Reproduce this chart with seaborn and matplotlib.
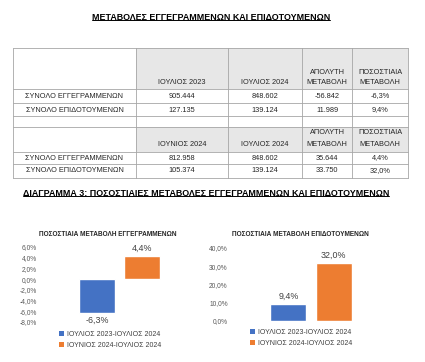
import numpy as np
import pandas as pd
import matplotlib
matplotlib.use('Agg')
import matplotlib.pyplot as plt
import seaborn as sns
from matplotlib.patches import Patch, Rectangle
from matplotlib.ticker import FuncFormatter, MultipleLocator

# table data
row_labels = ['ΣΥΝΟΛΟ ΕΓΓΕΓΡΑΜΜΕΝΩΝ', 'ΣΥΝΟΛΟ ΕΠΙΔΟΤΟΥΜΕΝΩΝ']
yoy_cols = ['ΙΟΥΛΙΟΣ 2023', 'ΙΟΥΛΙΟΣ 2024']
mom_cols = ['ΙΟΥΝΙΟΣ 2024', 'ΙΟΥΛΙΟΣ 2024']
change_cols = [('ΑΠΟΛΥΤΗ', 'ΜΕΤΑΒΟΛΗ'), ('ΠΟΣΟΣΤΙΑΙΑ', 'ΜΕΤΑΒΟΛΗ')]
jul23 = [905444, 127135]
jul24 = [848602, 139124]
jun24 = [812958, 105374]
abs_yoy = [-56842, 11989]
pct_yoy = [-6.3, 9.4]
abs_mom = [35644, 33750]
pct_mom = [4.4, 32.0]

# chart data
periods = ['ΙΟΥΛΙΟΣ 2023-ΙΟΥΛΙΟΣ 2024', 'ΙΟΥΝΙΟΣ 2024-ΙΟΥΛΙΟΣ 2024']
registered_pct = [pct_yoy[0], pct_mom[0]]
subsidised_pct = [pct_yoy[1], pct_mom[1]]
colors = ['#4472C4', '#ED7D31']

title = 'ΜΕΤΑΒΟΛΕΣ ΕΓΓΕΓΡΑΜΜΕΝΩΝ ΚΑΙ ΕΠΙΔΟΤΟΥΜΕΝΩΝ'
diagram_title = 'ΔΙΑΓΡΑΜΜΑ 3: ΠΟΣΟΣΤΙΑΙΕΣ ΜΕΤΑΒΟΛΕΣ ΕΓΓΕΓΡΑΜΜΕΝΩΝ ΚΑΙ ΕΠΙΔΟΤΟΥΜΕΝΩΝ'
chart_titles = ['ΠΟΣΟΣΤΙΑΙΑ ΜΕΤΑΒΟΛΗ ΕΓΓΕΓΡΑΜΜΕΝΩΝ', 'ΠΟΣΟΣΤΙΑΙΑ ΜΕΤΑΒΟΛΗ ΕΠΙΔΟΤΟΥΜΕΝΩΝ']

sns.set_theme(style='white')
plt.rcParams['font.family'] = ['Liberation Sans', 'DejaVu Sans']
plt.rcParams['axes.unicode_minus'] = False


def gr_num(v):
    return f'{v:,}'.replace(',', '.')


def gr_pct(v):
    return f'{v:.1f}%'.replace('.', ',')


W, H = 425, 362
fig = plt.figure(figsize=(W / 100, H / 100), dpi=100)
fig.patch.set_facecolor('white')

# background axes in pixel coords for the tables and titles
bg = fig.add_axes([0, 0, 1, 1])
bg.set_xlim(0, W)
bg.set_ylim(H, 0)
bg.axis('off')

txt = '#262626'
col_x = [13, 136, 228, 302, 352, 408]
row_y = [48, 89, 103, 116, 127, 152, 164, 178]
col_c = [(a + b) / 2 for a, b in zip(col_x[:-1], col_x[1:])]

# gray header cells
for top, bot in [(row_y[0], row_y[1]), (row_y[4], row_y[5])]:
    bg.add_patch(Rectangle((col_x[1], top), col_x[-1] - col_x[1], bot - top,
                           facecolor='#e7e7e7', edgecolor='none', zorder=1))
for y in row_y:
    bg.plot([col_x[0], col_x[-1]], [y, y], color='#a6a6a6', lw=0.6, zorder=2)
for x in col_x:
    bg.plot([x, x], [row_y[0], row_y[-1]], color='#a6a6a6', lw=0.6, zorder=2)

fs = 5.3


def header(cols, y_one, y_top, y_bot):
    for i, c in enumerate(cols):
        bg.text(col_c[i + 1], y_one, c, ha='center', va='center', fontsize=fs, color=txt)
    for i, (l1, l2) in enumerate(change_cols):
        bg.text(col_c[i + 3], y_top, l1, ha='center', va='center', fontsize=fs, color=txt)
        bg.text(col_c[i + 3], y_bot, l2, ha='center', va='center', fontsize=fs, color=txt)


def rows(first, second, absd, pct, ys):
    for i, y in enumerate(ys):
        vals = [row_labels[i], gr_num(first[i]), gr_num(second[i]), gr_num(absd[i]), gr_pct(pct[i])]
        for j, v in enumerate(vals):
            bg.text(col_c[j], y, v, ha='center', va='center', fontsize=fs, color=txt)


header(yoy_cols, 83, 72, 83)
rows(jul23, jul24, abs_yoy, pct_yoy, [96, 110])
header(mom_cols, 144, 132, 144)
rows(jun24, jul24, abs_mom, pct_mom, [158, 171])

t1 = bg.text(211, 17, title, ha='center', va='center', fontsize=6.4,
             fontweight='bold', color='black')
t2 = bg.text(206, 193, diagram_title, ha='center', va='center', fontsize=6.4,
             fontweight='bold', color='black')
for i, (cx, ct) in enumerate(zip([108, 300], chart_titles)):
    bg.text(cx, 234, ct, ha='center', va='center', fontsize=4.7,
            fontweight='bold', color='#262626')

# underline the two bold headings
fig.canvas.draw()
for t in [t1, t2]:
    bb = t.get_window_extent().transformed(bg.transData.inverted())
    yb = max(bb.y0, bb.y1) - 1.2
    bg.plot([bb.x0, bb.x1], [yb, yb], color='black', lw=0.7)

# bar charts
chart_boxes = [(52, 187, 247, 322), (243, 379, 248, 321)]
chart_vals = [registered_pct, subsidised_pct]
chart_lims = [(-8, 6, 2), (0, 40, 10)]
legend_pos = [(59, 331), (250, 329)]

for box, vals, lims, lpos in zip(chart_boxes, chart_vals, chart_lims, legend_pos):
    x0, x1, ytop, ybot = box
    ax = fig.add_axes([x0 / W, (H - ybot) / H, (x1 - x0) / W, (ybot - ytop) / H])
    df = pd.DataFrame({'period': periods, 'value': vals})
    sns.barplot(data=df, x='period', y='value', hue='period', palette=colors,
                saturation=1, width=0.8, ax=ax, legend=False)
    ax.set_xlim(-1, 2)
    ax.set_ylim(lims[0], lims[1])
    ax.yaxis.set_major_locator(MultipleLocator(lims[2]))
    ax.yaxis.set_major_formatter(FuncFormatter(lambda v, p: gr_pct(v)))
    ax.tick_params(axis='y', length=0, pad=11, labelsize=4.8, labelcolor='#595959')
    ax.set_xticks([])
    ax.set_xlabel('')
    ax.set_ylabel('')
    ax.patch.set_alpha(0)
    sns.despine(ax=ax, left=True, bottom=True)
    for cont in ax.containers:
        ax.bar_label(cont, labels=[gr_pct(v) for v in cont.datavalues],
                     padding=2, fontsize=6.4, color='#404040', clip_on=False)
    handles = [Patch(facecolor=c, edgecolor='none') for c in colors]
    fig.legend(handles, periods, loc='upper left',
               bbox_to_anchor=(lpos[0] / W, 1 - lpos[1] / H),
               frameon=False, fontsize=5, labelcolor='#404040',
               handlelength=0.7, handleheight=0.7, handletextpad=0.5,
               borderpad=0, borderaxespad=0, labelspacing=0.6)

fig.savefig('out.png', dpi=100, facecolor='white')
